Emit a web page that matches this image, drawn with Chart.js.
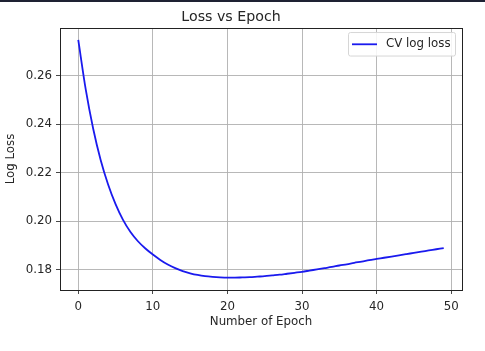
<!DOCTYPE html>
<html>
<head>
<meta charset="utf-8">
<script src="https://cdn.jsdelivr.net/npm/chart.js@4.4.1/dist/chart.umd.min.js"></script>
<style>
  html, body { margin: 0; padding: 0; background: #fff; }
  #strip { position: absolute; left: 0; top: 0; width: 485px; height: 2px; background: #1e2133; }
  canvas { display: block; }
</style>
</head>
<body>
<div id="strip"></div>
<canvas id="chart" width="485" height="351"></canvas>
<script>
// loss curve values, one per epoch
var epochs = [0, 1, 2, 3, 4, 5, 6, 7, 8, 9,
  10, 11, 12, 13, 14, 15, 16, 17, 18, 19,
  20, 21, 22, 23, 24, 25, 26, 27, 28, 29,
  30, 31, 32, 33, 34, 35, 36, 37, 38, 39,
  40, 41, 42, 43, 44, 45, 46, 47, 48, 49];
var cvLogLoss = [0.2747, 0.2543, 0.2381, 0.2252, 0.2151, 0.2070, 0.2005, 0.1955, 0.1917, 0.1887,
  0.1862, 0.1840, 0.1821, 0.1806, 0.1794, 0.1785, 0.1778, 0.1773, 0.1770, 0.1768,
  0.1767, 0.1767, 0.1768, 0.1769, 0.1771, 0.1773, 0.1776, 0.1779, 0.1783, 0.1787,
  0.1791, 0.1796, 0.1801, 0.1806, 0.1811, 0.1817, 0.1822, 0.1828, 0.1833, 0.1839,
  0.1844, 0.1849, 0.1854, 0.1859, 0.1864, 0.1869, 0.1874, 0.1879, 0.1884, 0.1889];
var xTicks = [0, 10, 20, 30, 40, 50];
var yTicks = [0.18, 0.20, 0.22, 0.24, 0.26];
var seriesName = "CV log loss";

var FONT = "'DejaVu Sans', sans-serif";
var TEXT = "#262626";

var points = [];
for (var i = 0; i < epochs.length; i++) {
  points.push({ x: epochs[i], y: cvLogLoss[i] });
}

// box round the plot area, like matplotlib spines
var framePlugin = {
  id: "frame",
  afterDatasetsDraw: function (chart) {
    var a = chart.chartArea, ctx = chart.ctx;
    ctx.save();
    ctx.strokeStyle = "#222";
    ctx.lineWidth = 1;
    ctx.strokeRect(Math.round(a.left) + 0.5, Math.round(a.top) + 0.5,
      Math.round(a.right - a.left), Math.round(a.bottom - a.top));
    ctx.restore();
  }
};

// legend box in the upper right corner of the plot
var cornerLegend = {
  id: "cornerLegend",
  afterDraw: function (chart) {
    var a = chart.chartArea, ctx = chart.ctx;
    var ds = chart.data.datasets[0];
    var w = 107, h = 23.5;
    var x = a.right - 7 - w, y = a.top + 4;
    ctx.save();
    ctx.fillStyle = "rgba(255,255,255,0.85)";
    ctx.strokeStyle = "#d6d6d6";
    ctx.lineWidth = 1;
    ctx.beginPath();
    ctx.roundRect(x + 0.5, y + 0.5, w, h, 2);
    ctx.fill();
    ctx.stroke();
    var cy = y + h / 2 + 0.5;
    ctx.strokeStyle = ds.borderColor;
    ctx.lineWidth = ds.borderWidth;
    ctx.beginPath();
    ctx.moveTo(x + 4, cy);
    ctx.lineTo(x + 29, cy);
    ctx.stroke();
    ctx.fillStyle = TEXT;
    ctx.font = "11.8px " + FONT;
    ctx.textBaseline = "middle";
    ctx.fillText(ds.label, x + 38, cy);
    ctx.restore();
  }
};

new Chart(document.getElementById("chart"), {
  type: "line",
  data: {
    datasets: [{
      label: seriesName,
      data: points,
      borderColor: "#1a1aee",
      borderWidth: 1.8,
      pointRadius: 0,
      fill: false,
      cubicInterpolationMode: "monotone"
    }]
  },
  options: {
    responsive: false,
    animation: false,
    devicePixelRatio: 1,
    layout: { padding: { left: 0, right: 23, top: 0, bottom: 0 } },
    plugins: {
      legend: { display: false },
      tooltip: { enabled: false },
      title: {
        display: true,
        text: "Loss vs Epoch",
        color: TEXT,
        font: { family: FONT, size: 14.2, weight: "normal" },
        padding: { top: 9, bottom: 2 }
      }
    },
    scales: {
      x: {
        type: "linear",
        min: -2.45,
        max: 51.45,
        afterBuildTicks: function (scale) {
          scale.ticks = xTicks.map(function (v) { return { value: v }; });
        },
        afterFit: function (scale) { scale.height = 61; },
        grid: { color: "#b0b0b0", lineWidth: 0.9, drawTicks: true, tickLength: 4, tickColor: "#333" },
        border: { display: false },
        ticks: {
          color: TEXT,
          font: { family: FONT, size: 11.8 },
          padding: 6,
          maxRotation: 0,
          callback: function (v) { return v; }
        },
        title: {
          display: true,
          text: "Number of Epoch",
          color: TEXT,
          font: { family: FONT, size: 11.8 },
          padding: { top: 0, bottom: 22 }
        }
      },
      y: {
        type: "linear",
        min: 0.1716,
        max: 0.2796,
        afterBuildTicks: function (scale) {
          scale.ticks = yTicks.map(function (v) { return { value: v }; });
        },
        afterFit: function (scale) { scale.width = 60; },
        grid: { color: "#b0b0b0", lineWidth: 0.9, drawTicks: true, tickLength: 4, tickColor: "#333" },
        border: { display: false },
        ticks: {
          color: TEXT,
          font: { family: FONT, size: 11.8 },
          padding: 4,
          callback: function (v) { return v.toFixed(2); }
        },
        title: {
          display: true,
          text: "Log Loss",
          color: TEXT,
          font: { family: FONT, size: 11.8 },
          padding: { top: 4, bottom: 0 }
        }
      }
    }
  },
  plugins: [framePlugin, cornerLegend]
});
</script>
</body>
</html>
